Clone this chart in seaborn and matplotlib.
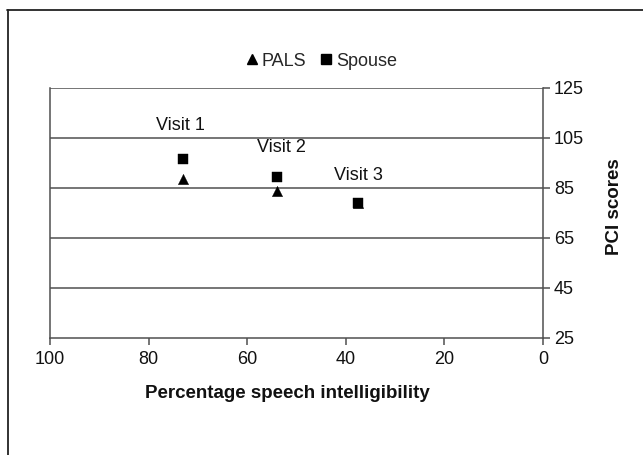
import matplotlib
matplotlib.use("Agg")
import matplotlib.pyplot as plt
import seaborn as sns
import pandas as pd
from matplotlib.lines import Line2D

visits = ["Visit 1", "Visit 2", "Visit 3"]
intelligibility = [73, 54, 37.5]
pals_pci = [88.5, 84, 79]
spouse_pci = [96.5, 89.5, 79]
label_x = [73.5, 53, 37.5]
label_y = [110, 101, 90]
y_ticks = [25, 45, 65, 85, 105, 125]
x_ticks = [100, 80, 60, 40, 20, 0]

sns.set_theme(style="white")
plt.rcParams['font.family'] = ['Liberation Sans', 'DejaVu Sans']

df = pd.DataFrame({
    "Group": ["PALS"] * 3 + ["Spouse"] * 3,
    "Intelligibility": intelligibility + intelligibility,
    "PCI": pals_pci + spouse_pci,
})

fig = plt.figure(figsize=(6.43, 4.55), dpi=100)
ax = fig.add_axes([50/643, 1-338/455, 493/643, 250/455])

grid_c = "#505050"
for yv in y_ticks[1:]:
    ax.axhline(yv, color=grid_c, lw=1.1, zorder=1)

sns.scatterplot(data=df[df.Group == "PALS"], x="Intelligibility", y="PCI",
                marker="^", color="black", s=55, edgecolor="black", linewidth=0.3,
                ax=ax, zorder=3, legend=False)
sns.scatterplot(data=df[df.Group == "Spouse"], x="Intelligibility", y="PCI",
                marker="s", color="black", s=45, edgecolor="black", linewidth=0.3,
                ax=ax, zorder=4, legend=False)

for t, lx, ly in zip(visits, label_x, label_y):
    ax.text(lx, ly, t, ha="center", va="center", fontsize=13, color="#111111")

ax.set_xlim(100, 0)
ax.set_ylim(25, 125)
ax.set_xticks(x_ticks)
ax.set_yticks(y_ticks)
ax.yaxis.tick_right()
ax.yaxis.set_label_position("right")
ax.tick_params(axis="both", which="major", direction="out", length=5, width=1.1,
               color=grid_c, labelsize=13, labelcolor="#111111", pad=3)
ax.tick_params(axis="y", right=True, left=False)
ax.tick_params(axis="x", bottom=True, pad=4)

for side in ["left", "bottom", "right"]:
    ax.spines[side].set_visible(True)
    ax.spines[side].set_color(grid_c)
    ax.spines[side].set_linewidth(1.1)
ax.spines["top"].set_visible(False)

ax.set_xlabel("Percentage speech intelligibility", fontsize=13.5, fontweight="bold",
              color="#111111")
ax.xaxis.set_label_coords((287.5 - 50) / 493, (338 - 393) / 250)
ax.xaxis.label.set_va("center")
ax.set_ylabel("PCI scores", fontsize=13.5, fontweight="bold", color="#111111")
ax.yaxis.set_label_coords((605.7 - 50) / 493, (338 - 206.5) / 250)

handles = [Line2D([], [], marker="^", color="black", ls="none", markersize=7),
           Line2D([], [], marker="s", color="black", ls="none", markersize=6.5)]
fig.legend(handles, ["PALS", "Spouse"], loc="center", bbox_to_anchor=(320/643, 1-61/455),
           ncol=2, frameon=False, fontsize=13, handletextpad=0.05, columnspacing=0.6,
           handlelength=1.0)

fig.add_artist(Line2D([7/643, 1.0], [1-10/455, 1-10/455], color="#222222", lw=1.3,
                      transform=fig.transFigure))
fig.add_artist(Line2D([7.5/643, 7.5/643], [1-10/455, 0], color="#222222", lw=1.3,
                      transform=fig.transFigure))

fig.savefig("out.png", dpi=100)
